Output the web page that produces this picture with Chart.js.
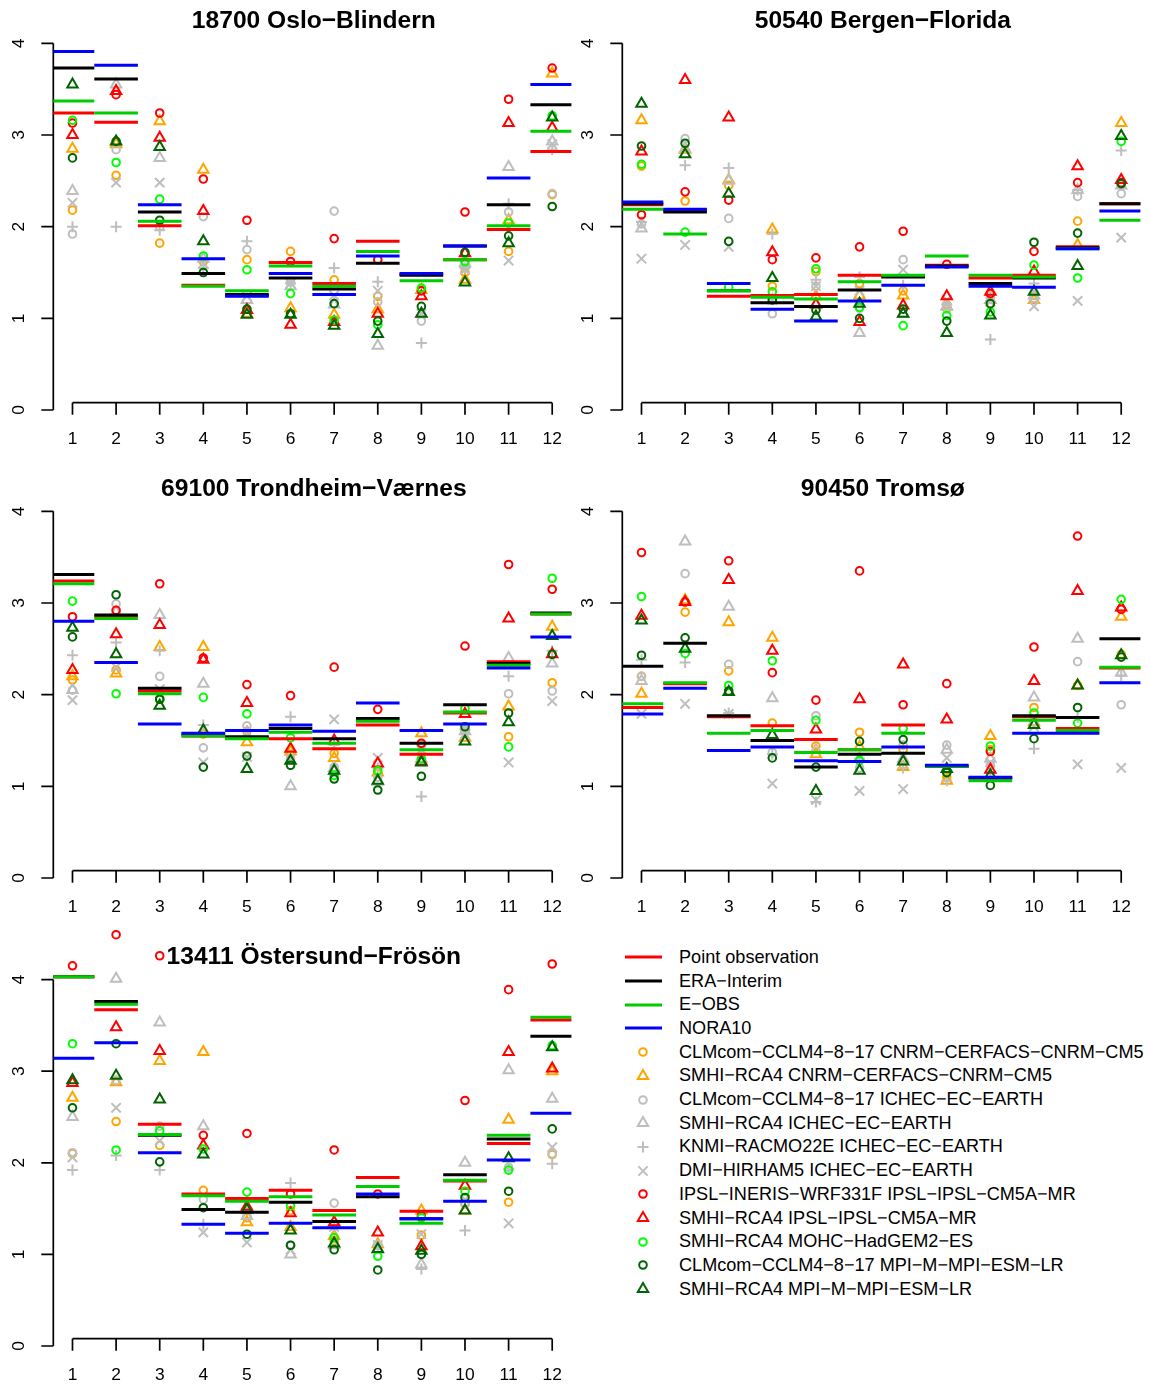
<!DOCTYPE html>
<html>
<head>
<meta charset="utf-8">
<script src="https://cdn.jsdelivr.net/npm/chart.js@4.4.1/dist/chart.umd.min.js"></script>
<style>
  html, body { margin: 0; padding: 0; background: #fff; overflow: hidden; }
  body { width: 1150px; height: 1384px; position: relative; font-family: "Liberation Sans", Arial, sans-serif; }
  canvas.panel { position: absolute; }
  .leg { position: absolute; left: 622px; height: 24px; display: flex; align-items: center; font-size: 18.1px; color: #000; white-space: nowrap; }
  .leg svg { width: 44px; height: 24px; margin-right: 13px; flex: none; }
</style>
</head>
<body>
<canvas class="panel" id="p0" width="580" height="468" style="left:0px;top:0px"></canvas>
<canvas class="panel" id="p1" width="580" height="468" style="left:569px;top:0px"></canvas>
<canvas class="panel" id="p2" width="580" height="468" style="left:0px;top:468px"></canvas>
<canvas class="panel" id="p3" width="580" height="468" style="left:569px;top:468px"></canvas>
<canvas class="panel" id="p4" width="580" height="488" style="left:0px;top:916px"></canvas>
<div id="legend"></div>
<script>
// ---- data (one row per station, 12 monthly values) ----
const months = [1, 2, 3, 4, 5, 6, 7, 8, 9, 10, 11, 12];
const yTicks = [0, 1, 2, 3, 4];
const stations = ["18700 Oslo\u2212Blindern", "50540 Bergen\u2212Florida", "69100 Trondheim\u2212V\u00e6rnes", "90450 Troms\u00f8", "13411 \u00d6stersund\u2212Fr\u00f6s\u00f6n"];

// observations (horizontal bars)
const pointObs = [
  [3.24, 3.14, 2.01, 1.36, 1.25, 1.61, 1.38, 1.84, 1.48, 1.64, 1.97, 2.82],
  [2.24, 2.18, 1.24, 1.25, 1.26, 1.47, 1.46, 1.58, 1.44, 1.47, 1.78, 2.25],
  [3.24, 2.85, 2.04, 1.55, 1.53, 1.52, 1.41, 1.67, 1.35, 1.80, 2.36, 2.88],
  [1.86, 2.12, 1.76, 1.66, 1.51, 1.40, 1.67, 1.22, 1.09, 1.76, 1.63, 2.29],
  [4.03, 3.67, 2.42, 1.66, 1.61, 1.70, 1.48, 1.84, 1.47, 1.80, 2.21, 3.56]
];
const eraInterim = [
  [3.73, 3.61, 2.16, 1.49, 1.26, 1.44, 1.32, 1.60, 1.47, 1.79, 2.24, 3.33],
  [2.25, 2.16, 1.30, 1.17, 1.13, 1.31, 1.45, 1.57, 1.38, 1.44, 1.77, 2.25],
  [3.31, 2.87, 2.07, 1.57, 1.54, 1.63, 1.52, 1.74, 1.47, 1.89, 2.34, 2.89],
  [2.31, 2.56, 1.77, 1.50, 1.21, 1.35, 1.36, 1.22, 1.09, 1.77, 1.75, 2.61],
  [4.03, 3.76, 2.30, 1.49, 1.46, 1.57, 1.36, 1.63, 1.39, 1.87, 2.26, 3.38]
];
const eObs = [
  [3.37, 3.24, 2.06, 1.35, 1.30, 1.57, 1.35, 1.73, 1.41, 1.64, 2.01, 3.04],
  [2.19, 1.92, 1.30, 1.23, 1.21, 1.40, 1.47, 1.68, 1.47, 1.45, 1.76, 2.07],
  [3.21, 2.83, 2.01, 1.55, 1.52, 1.59, 1.47, 1.71, 1.40, 1.81, 2.32, 2.88],
  [1.90, 2.13, 1.58, 1.61, 1.37, 1.40, 1.58, 1.22, 1.06, 1.72, 1.61, 2.30],
  [4.03, 3.73, 2.31, 1.64, 1.58, 1.63, 1.43, 1.74, 1.34, 1.81, 2.30, 3.59]
];
const nora10 = [
  [3.91, 3.76, 2.24, 1.65, 1.24, 1.49, 1.26, 1.68, 1.49, 1.79, 2.53, 3.55],
  [2.27, 2.19, 1.38, 1.10, 0.97, 1.19, 1.36, 1.56, 1.35, 1.34, 1.76, 2.17],
  [2.80, 2.35, 1.68, 1.58, 1.61, 1.67, 1.60, 1.91, 1.61, 1.68, 2.29, 2.63],
  [1.79, 2.07, 1.39, 1.43, 1.28, 1.27, 1.43, 1.23, 1.10, 1.58, 1.58, 2.13],
  [3.14, 3.31, 2.11, 1.33, 1.23, 1.34, 1.29, 1.66, 1.39, 1.58, 2.03, 2.54]
];

// regional climate models (points)
const cclmCnrm = [
  [2.18, 2.56, 1.82, 1.62, 1.64, 1.73, 1.42, 1.24, 1.32, 1.50, 1.73, 2.35],
  [2.66, 2.28, 2.45, 1.35, 1.51, 1.38, 1.30, 1.15, 1.16, 1.25, 2.06, 2.46],
  [2.16, 2.27, 1.95, 1.57, 1.60, 1.35, 1.36, 1.15, 1.45, 1.60, 1.54, 2.13],
  [2.20, 2.90, 2.26, 1.69, 1.44, 1.59, 1.40, 1.10, 1.40, 1.86, 2.10, 2.44],
  [2.10, 2.45, 2.19, 1.70, 1.40, 1.48, 1.15, 1.10, 1.21, 1.55, 1.57, 2.09]
];
const rcaCnrm = [
  [2.85, 2.90, 3.15, 2.62, 1.05, 1.11, 1.04, 1.10, 1.31, 1.42, 2.07, 3.67],
  [3.16, 2.84, 2.51, 1.97, 1.24, 1.25, 1.25, 1.13, 1.20, 1.20, 1.80, 3.13],
  [2.20, 2.23, 2.52, 2.52, 1.48, 1.38, 1.31, 1.15, 1.58, 1.53, 1.87, 2.74],
  [2.01, 3.03, 2.79, 2.62, 1.35, 1.43, 1.21, 1.06, 1.55, 1.70, 2.10, 2.85],
  [2.71, 2.88, 3.11, 3.21, 1.35, 1.30, 1.20, 1.11, 1.48, 1.48, 2.47, 3.00]
];
const cclmIchec = [
  [1.92, 2.84, 2.00, 2.11, 1.75, 1.40, 2.17, 1.18, 0.97, 1.55, 2.16, 2.36],
  [2.03, 2.96, 2.09, 1.05, 1.35, 1.11, 1.64, 1.10, 1.25, 1.22, 2.33, 2.36],
  [2.05, 2.99, 2.20, 1.42, 1.66, 1.30, 1.21, 1.10, 1.45, 1.61, 2.01, 2.04],
  [2.20, 3.32, 2.33, 1.37, 1.77, 1.20, 1.45, 1.45, 1.23, 1.70, 2.36, 1.89],
  [2.11, 2.90, 2.40, 1.60, 1.42, 1.10, 1.56, 1.10, 1.00, 1.55, 1.95, 2.10]
];
const rcaIchec = [
  [2.39, 3.55, 2.75, 1.65, 1.20, 1.35, 1.15, 0.70, 1.05, 1.60, 2.65, 2.93],
  [1.98, 2.85, 2.50, 1.20, 1.15, 0.84, 1.05, 1.13, 1.20, 1.25, 2.40, 2.45],
  [2.05, 2.90, 2.87, 2.12, 1.55, 1.00, 1.20, 1.05, 1.30, 1.60, 2.40, 2.34],
  [2.15, 3.67, 2.96, 1.96, 1.40, 1.30, 1.30, 1.40, 1.30, 1.97, 2.61, 2.24],
  [2.50, 4.01, 3.53, 2.40, 1.42, 1.00, 1.10, 1.05, 0.89, 2.00, 3.01, 2.70]
];
const racmoIchec = [
  [2.00, 2.00, 1.96, 1.55, 1.84, 1.38, 1.55, 1.40, 0.73, 1.55, 2.25, 2.84],
  [2.05, 2.67, 2.64, 1.92, 1.42, 1.45, 1.36, 1.15, 0.77, 1.38, 2.40, 2.83],
  [2.43, 2.57, 2.48, 1.67, 1.61, 1.76, 1.45, 1.20, 0.89, 1.62, 2.20, 2.48],
  [2.38, 2.35, 1.80, 1.35, 0.83, 1.30, 1.20, 1.06, 1.15, 1.41, 1.75, 2.21],
  [1.92, 2.08, 1.92, 1.33, 1.50, 1.78, 1.30, 1.10, 0.84, 1.26, 1.93, 1.99]
];
const hirhamIchec = [
  [2.26, 2.48, 2.48, 1.60, 1.24, 1.38, 1.25, 1.30, 1.05, 1.53, 1.63, 2.90],
  [1.65, 1.80, 1.78, 1.20, 1.35, 1.30, 1.53, 1.20, 1.18, 1.13, 1.19, 1.88],
  [1.94, 2.30, 2.06, 1.26, 1.32, 1.30, 1.73, 1.31, 1.40, 1.57, 1.26, 1.93],
  [1.79, 1.90, 1.79, 1.03, 0.85, 0.95, 0.97, 1.31, 1.26, 1.65, 1.24, 1.20],
  [2.06, 2.60, 2.24, 1.24, 1.13, 1.05, 1.30, 1.10, 1.22, 1.60, 1.34, 2.17]
];
const wrfIpsl = [
  [3.13, 3.44, 3.24, 2.52, 2.07, 1.62, 1.87, 1.64, 1.30, 2.16, 3.39, 3.73],
  [2.13, 2.38, 2.29, 1.64, 1.66, 1.78, 1.95, 1.59, 1.27, 1.73, 2.48, 2.48],
  [2.85, 2.92, 3.21, 2.40, 2.11, 1.99, 2.30, 1.84, 1.47, 2.53, 3.42, 3.15],
  [3.55, 3.01, 3.46, 2.24, 1.94, 3.35, 1.89, 2.12, 1.38, 2.52, 3.73, 2.93],
  [4.15, 4.49, 4.26, 2.30, 2.32, 1.66, 2.14, 1.66, 1.42, 2.68, 3.89, 4.17]
];
const rcaIpsl = [
  [3.00, 3.48, 2.97, 2.17, 1.09, 0.93, 0.96, 1.05, 1.24, 1.71, 3.13, 3.08],
  [2.82, 3.60, 3.19, 1.72, 1.15, 0.96, 1.14, 1.24, 1.29, 1.51, 2.66, 2.51],
  [2.27, 2.66, 2.76, 2.38, 1.91, 1.41, 1.50, 1.25, 1.27, 1.79, 2.83, 2.44],
  [2.86, 3.01, 3.25, 2.48, 1.62, 1.95, 2.33, 1.73, 1.18, 2.15, 3.13, 2.95],
  [2.87, 3.48, 3.22, 2.19, 1.52, 1.45, 1.35, 1.24, 1.09, 1.75, 3.21, 3.03]
];
const rcaMohc = [
  [3.16, 2.70, 2.30, 1.68, 1.53, 1.27, 0.98, 0.93, 1.33, 1.62, 2.04, 3.21],
  [2.68, 1.94, 1.34, 1.29, 1.54, 1.12, 0.92, 1.03, 1.07, 1.58, 1.44, 2.93],
  [3.02, 2.01, 1.95, 1.97, 1.79, 1.53, 1.12, 1.17, 1.30, 1.85, 1.43, 3.27],
  [3.07, 2.45, 2.10, 2.37, 1.72, 1.28, 1.63, 1.15, 1.44, 1.80, 1.69, 3.04],
  [3.30, 2.14, 2.35, 2.15, 1.68, 1.53, 1.18, 0.98, 1.40, 1.69, 1.92, 3.28]
];
const cclmMpi = [
  [2.75, 2.93, 2.07, 1.50, 1.10, 1.05, 1.16, 0.97, 1.13, 1.72, 1.90, 2.22],
  [2.88, 2.91, 1.84, 1.20, 1.09, 1.00, 1.10, 0.97, 1.16, 1.83, 1.93, 2.47],
  [2.63, 3.09, 1.95, 1.21, 1.33, 1.23, 1.08, 0.96, 1.11, 1.65, 1.80, 2.44],
  [2.43, 2.62, 2.04, 1.31, 1.21, 1.49, 1.51, 1.15, 1.01, 1.52, 1.86, 2.41],
  [2.60, 3.30, 2.01, 1.51, 1.22, 1.10, 1.05, 0.83, 1.00, 1.62, 1.69, 2.37]
];
const rcaMpi = [
  [3.55, 2.93, 2.87, 1.84, 1.04, 1.04, 0.92, 0.83, 1.05, 1.39, 1.82, 3.19],
  [3.34, 2.79, 2.36, 1.44, 1.02, 1.16, 1.05, 0.84, 1.03, 1.29, 1.57, 2.99],
  [2.73, 2.44, 1.88, 1.61, 1.19, 1.28, 1.17, 1.06, 1.26, 1.49, 1.70, 2.64],
  [2.81, 2.50, 2.03, 1.56, 0.95, 1.17, 1.27, 1.19, 1.12, 1.67, 2.10, 2.43],
  [2.90, 2.95, 2.69, 2.09, 1.49, 1.26, 1.12, 1.06, 1.04, 1.48, 2.05, 3.26]
];

// ---- styling ----
const FONT = '"Liberation Sans", Arial, sans-serif';
const obsSeries = [
  { label: "Point observation", data: pointObs, color: "#ff0000", order: 3 },
  { label: "ERA\u2212Interim", data: eraInterim, color: "#000000", order: 2 },
  { label: "E\u2212OBS", data: eObs, color: "#00cd00", order: 1 },
  { label: "NORA10", data: nora10, color: "#0000ff", order: 0 }
];
const modelSeries = [
  { label: "CLMcom\u2212CCLM4\u22128\u221217 CNRM\u2212CERFACS\u2212CNRM\u2212CM5", data: cclmCnrm, color: "#ffa500", shape: "circle" },
  { label: "SMHI\u2212RCA4 CNRM\u2212CERFACS\u2212CNRM\u2212CM5", data: rcaCnrm, color: "#ffa500", shape: "triangle" },
  { label: "CLMcom\u2212CCLM4\u22128\u221217 ICHEC\u2212EC\u2212EARTH", data: cclmIchec, color: "#bebebe", shape: "circle" },
  { label: "SMHI\u2212RCA4 ICHEC\u2212EC\u2212EARTH", data: rcaIchec, color: "#bebebe", shape: "triangle" },
  { label: "KNMI\u2212RACMO22E ICHEC\u2212EC\u2212EARTH", data: racmoIchec, color: "#bebebe", shape: "cross" },
  { label: "DMI\u2212HIRHAM5 ICHEC\u2212EC\u2212EARTH", data: hirhamIchec, color: "#bebebe", shape: "crossRot" },
  { label: "IPSL\u2212INERIS\u2212WRF331F IPSL\u2212IPSL\u2212CM5A\u2212MR", data: wrfIpsl, color: "#ff0000", shape: "circle" },
  { label: "SMHI\u2212RCA4 IPSL\u2212IPSL\u2212CM5A\u2212MR", data: rcaIpsl, color: "#ff0000", shape: "triangle" },
  { label: "SMHI\u2212RCA4 MOHC\u2212HadGEM2\u2212ES", data: rcaMohc, color: "#00ff00", shape: "circle" },
  { label: "CLMcom\u2212CCLM4\u22128\u221217 MPI\u2212M\u2212MPI\u2212ESM\u2212LR", data: cclmMpi, color: "#006400", shape: "circle" },
  { label: "SMHI\u2212RCA4 MPI\u2212M\u2212MPI\u2212ESM\u2212LR", data: rcaMpi, color: "#006400", shape: "triangle" }
];
const shapeRadius = { circle: 3.8, triangle: 6, cross: 5.5, crossRot: 6.6 };

// panel geometry: px per unit, pixel of y=0 inside each canvas, top of the value range
const UNIT = 91.67;
const Y_MIN = -0.16;
const zeroPx = [410, 410, 410, 410, 430];   // bottom canvas starts 20px higher
const yTop = [4.16, 4.16, 4.16, 4.16, 4.6];  // room for the high points near the title

// R-style axes + title: y axis with rotated labels, x axis lifted a little off the bottom
const rAxes = {
  id: "rAxes",
  beforeDatasetsDraw(chart, args, opts) {
    const { ctx, chartArea, scales: { x, y } } = chart;
    const left = chartArea.left;
    const base = chartArea.bottom - 22;
    ctx.save();
    ctx.strokeStyle = "#000";
    ctx.fillStyle = "#000";
    ctx.lineWidth = 1.7;
    ctx.beginPath();
    ctx.moveTo(left, y.getPixelForValue(yTicks[0]));
    ctx.lineTo(left, y.getPixelForValue(yTicks[yTicks.length - 1]));
    yTicks.forEach(t => {
      const py = y.getPixelForValue(t);
      ctx.moveTo(left, py);
      ctx.lineTo(left - 12, py);
    });
    ctx.moveTo(x.getPixelForValue(months[0]), base);
    ctx.lineTo(x.getPixelForValue(months[months.length - 1]), base);
    months.forEach(m => {
      const px = x.getPixelForValue(m);
      ctx.moveTo(px, base);
      ctx.lineTo(px, base + 12);
    });
    ctx.stroke();
    ctx.textAlign = "center";
    ctx.textBaseline = "middle";
    ctx.font = "17.4px " + FONT;
    months.forEach(m => ctx.fillText(String(m), x.getPixelForValue(m), base + 37));
    yTicks.forEach(t => {
      ctx.save();
      ctx.translate(left - 34, y.getPixelForValue(t));
      ctx.rotate(-Math.PI / 2);
      ctx.fillText(String(t), 0, 0);
      ctx.restore();
    });
    ctx.font = "bold 24.6px " + FONT;
    ctx.fillText(opts.title, x.getPixelForValue(6.5) + 1.5, y.getPixelForValue(4.16) - 7.6);
    ctx.restore();
  }
};

function barSegments(vals) {
  const pts = [];
  vals.forEach((v, i) => {
    const m = months[i];
    pts.push({ x: m - 0.5, y: v }, { x: m + 0.5, y: v }, { x: m + 0.5, y: null });
  });
  return pts;
}

stations.forEach((name, s) => {
  const canvas = document.getElementById("p" + s);
  const datasets = [];
  obsSeries.forEach(o => {
    datasets.push({
      label: o.label,
      data: barSegments(o.data[s]),
      showLine: true,
      spanGaps: false,
      borderColor: o.color,
      borderWidth: 3,
      borderCapStyle: "butt",
      pointRadius: 0,
      order: o.order
    });
  });
  modelSeries.forEach((m, k) => {
    datasets.push({
      label: m.label,
      data: months.map((mm, i) => ({ x: mm, y: m.data[s][i] })),
      showLine: false,
      clip: false,
      pointStyle: m.shape,
      pointRadius: shapeRadius[m.shape],
      pointBorderColor: m.color,
      pointBackgroundColor: "rgba(0,0,0,0)",
      pointBorderWidth: 2,
      order: 100 - k
    });
  });
  const padTop = zeroPx[s] - yTop[s] * UNIT;
  const padBottom = canvas.height - (zeroPx[s] - Y_MIN * UNIT);
  new Chart(canvas, {
    type: "scatter",
    data: { datasets },
    options: {
      responsive: false,
      animation: false,
      devicePixelRatio: 1,
      layout: { padding: { left: 53.3, right: 4.8, top: padTop, bottom: padBottom } },
      scales: {
        x: { type: "linear", min: 0.56, max: 12.44, display: false },
        y: { type: "linear", min: Y_MIN, max: yTop[s], display: false }
      },
      plugins: {
        legend: { display: false },
        tooltip: { enabled: false },
        title: { display: false },
        rAxes: { title: name }
      }
    },
    plugins: [rAxes]
  });
});

// ---- legend ----
function legendSymbol(item, isLine) {
  if (isLine) {
    return `<svg viewBox="0 0 44 24"><line x1="3" y1="12" x2="40" y2="12" stroke="${item.color}" stroke-width="3"/></svg>`;
  }
  const c = item.color;
  const cx = 21, cy = 12;
  let shape = "";
  if (item.shape === "circle") shape = `<circle cx="${cx}" cy="${cy}" r="3.8" fill="none" stroke="${c}" stroke-width="2"/>`;
  if (item.shape === "triangle") shape = `<polygon points="${cx},${cy - 6} ${cx + 5.2},${cy + 3} ${cx - 5.2},${cy + 3}" fill="none" stroke="${c}" stroke-width="2"/>`;
  if (item.shape === "cross") shape = `<path d="M${cx - 5.5} ${cy}H${cx + 5.5}M${cx} ${cy - 5.5}V${cy + 5.5}" stroke="${c}" stroke-width="2"/>`;
  if (item.shape === "crossRot") shape = `<path d="M${cx - 4.6} ${cy - 4.6}L${cx + 4.6} ${cy + 4.6}M${cx - 4.6} ${cy + 4.6}L${cx + 4.6} ${cy - 4.6}" stroke="${c}" stroke-width="2"/>`;
  return `<svg viewBox="0 0 44 24">${shape}</svg>`;
}
const legendEl = document.getElementById("legend");
const legendItems = obsSeries.map(o => [o, true]).concat(modelSeries.map(m => [m, false]));
legendItems.forEach(([item, isLine], i) => {
  const row = document.createElement("div");
  row.className = "leg";
  row.style.top = (957.3 + i * 23.7 - 12) + "px";
  row.innerHTML = legendSymbol(item, isLine) + "<span>" + item.label + "</span>";
  legendEl.appendChild(row);
});
</script>
</body>
</html>
